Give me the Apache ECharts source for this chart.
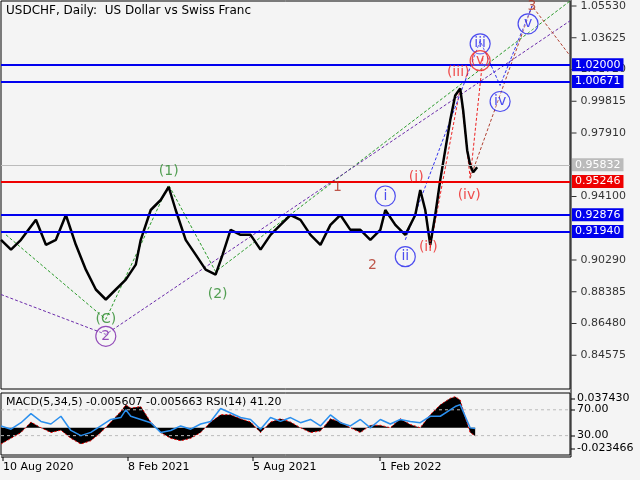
<!DOCTYPE html><html><head><meta charset="utf-8"><script src="https://cdn.jsdelivr.net/npm/echarts@6/dist/echarts.min.js"></script>
<style>body{margin:0;background:#f4f4f4}#c{width:640px;height:480px}</style></head><body><div id="c"></div><script>
// price path: [barPosition, price]
const priceX=[0,10,20,35,45,55,65,75,85,95,105,115,125,135,140,150,160,168,175,185,195,205,215,222,230,240,250,260,270,280,290,300,310,320,330,340,350,360,370,380,385,395,405,415,420,425,430,435,440,445,450,455,460,463,467,470,473,477];
const priceY=[0.9150,0.9091,0.9150,0.9270,0.9120,0.9150,0.9299,0.9120,0.8971,0.8852,0.8792,0.8852,0.8911,0.9001,0.9150,0.9329,0.9389,0.9467,0.9329,0.9150,0.9061,0.8971,0.8941,0.9061,0.9210,0.9180,0.9180,0.9091,0.9180,0.9240,0.9299,0.9270,0.9180,0.9120,0.9240,0.9299,0.9210,0.9210,0.9150,0.9210,0.9329,0.9240,0.9180,0.9299,0.9449,0.9329,0.9120,0.9299,0.9508,0.9688,0.9867,1.0016,1.0058,0.9926,0.9688,0.9598,0.9556,0.9586];
const levelsBlue=[1.02000,1.00671,0.92876,0.91940];
const levelRed=0.95246, lastPrice=0.95832;
const tickLabels=[1.05530,1.03625,1.01720,0.99815,0.97910,0.94100,0.90290,0.88385,0.86480,0.84575];
const greenWave=[[5,0.9180],[105,0.8673],[168,0.9479],[215,0.8959],[570,1.0583]];
const purpleWave=[[0,0.8822],[105,0.8583],[570,1.0464]];
const redWave=[[430,0.9102],[460,1.0058],[470,0.9520],[483,1.0255]];
const brownWave=[[470,0.9520],[532,1.0553],[570,1.0255]];
const blueWave=[[405,0.9150],[480,1.0344],[500,1.0076],[532,1.0553]];
const waveLabels=[
 [168,0.9560,'(1)','#2a8a2a',0],[217,0.8822,'(2)','#2a8a2a',0],[105,0.8673,'(C)','#2a8a2a',0],[105,0.8571,'2','#7a22aa',1],
 [337,0.9467,'1','#b03020',0],[372,0.8995,'2','#b03020',0],[532,1.0553,'3','#b03020',0],
 [385,0.9413,'i','#2222ee',1],[405,0.9049,'ii','#2222ee',1],[480,1.0326,'iii','#2222ee',1],[500,0.9980,'iv','#2222ee',1],[528,1.0446,'v','#2222ee',1],
 [416,0.9526,'(i)','#ee2222',0],[428,0.9102,'(ii)','#ee2222',0],[458,1.0155,'(iii)','#ee2222',0],[469,0.9419,'(iv)','#ee2222',0],[480,1.0225,'(v)','#ee2222',1]];
const oscX=[0,10,20,30,40,50,60,70,80,90,100,110,120,125,130,140,150,160,170,180,190,200,210,220,230,240,250,260,270,280,290,300,310,320,330,340,350,360,370,380,390,400,410,420,430,440,450,455,460,465,470,475];
const rsi=[45,40,50,64,52,48,60,38,30,35,45,55,58,70,60,55,50,35,38,45,40,48,52,72,65,58,55,40,58,52,58,50,55,45,62,50,45,55,42,55,48,55,52,50,60,60,70,75,78,60,42,41];
const macd=[-0.02,-0.013,-0.006,0.007,0,-0.006,-0.003,-0.013,-0.02,-0.016,-0.006,0.007,0.02,0.028,0.024,0.026,0.007,-0.006,-0.013,-0.016,-0.013,-0.006,0.007,0.016,0.016,0.011,0.007,-0.006,0.007,0.011,0.007,0,-0.006,-0.004,0.011,0.007,0,-0.006,0.003,0.003,0,0.011,0.004,0,0.016,0.028,0.036,0.038,0.034,0.013,-0.006,-0.01];
const dateLabels=[[3,'10 Aug 2020'],[128,'8 Feb 2021'],[253,'5 Aug 2021'],[380,'1 Feb 2022']];
const F='DejaVu Sans';
const ch=echarts.init(document.getElementById('c'));
const dashed=(d,c,i)=>({type:'line',xAxisIndex:i||0,yAxisIndex:i||0,data:d,symbol:'none',lineStyle:{color:c,width:1,type:[3,2]},z:3});
ch.setOption({backgroundColor:'#f4f4f4',animation:false,
 grid:[{left:1,top:1,width:569,height:388,show:true,borderColor:'#000',borderWidth:1},
       {left:1,top:393,width:569,height:62,show:true,borderColor:'#000',borderWidth:1},
       {left:1,top:393,width:569,height:62}],
 xAxis:[0,1,2].map(i=>({type:'value',gridIndex:i,min:0,max:570,show:false})),
 yAxis:[{type:'value',gridIndex:0,min:0.8255,max:1.0583,show:false},
        {type:'value',gridIndex:1,min:0,max:96,show:false},
        {type:'value',gridIndex:2,min:-0.0334,max:0.0425,show:false}],
 graphic:[{type:'text',left:6,top:5,style:{text:'USDCHF, Daily:  US Dollar vs Swiss Franc',font:'12px '+F,fill:'#000'}},
   {type:'text',left:6,top:397,style:{text:'MACD(5,34,5) -0.005607 -0.005663 RSI(14) 41.20',font:'11px '+F,fill:'#000'}},
   {type:'line',shape:{x1:571,y1:0,x2:571,y2:457},style:{stroke:'#000'}},
   {type:'line',shape:{x1:1,y1:457,x2:571,y2:457},style:{stroke:'#000'}},
   ...[[399,'0.037430'],[410,'70.00'],[436,'30.00'],[449,'-0.023466']].map(a=>({type:'group',children:[
     {type:'line',shape:{x1:571,y1:a[0],x2:575,y2:a[0]},style:{stroke:'#000'}},
     {type:'text',x:577,y:a[0]-6,style:{text:a[1],font:'11px '+F,fill:'#000'}}]})),
   ...dateLabels.map(a=>({type:'group',children:[
     {type:'line',shape:{x1:a[0],y1:457,x2:a[0],y2:461},style:{stroke:'#000'}},
     {type:'text',x:a[0],y:462,style:{text:a[1],font:'11px '+F,fill:'#000'}}]}))],
 series:[
  {type:'line',data:priceX.map((x,i)=>[x,priceY[i]]),symbol:'none',lineStyle:{color:'#000',width:2.5},z:4,
   markLine:{silent:true,symbol:'none',animation:false,data:[
     {yAxis:lastPrice,lineStyle:{color:'#bbb',width:1,type:'solid'},label:{position:'end',formatter:'0.95832',color:'#fff',backgroundColor:'#bbb',padding:[1,3],fontFamily:F,fontSize:11,distance:2}},
     ...levelsBlue.map(v=>({yAxis:v,lineStyle:{color:'#0000ee',width:2,type:'solid'},label:{position:'end',formatter:v.toFixed(5),color:'#fff',backgroundColor:'#0000ee',padding:[1,3],fontFamily:F,fontSize:11,distance:2}})),
     {yAxis:levelRed,lineStyle:{color:'#ee0000',width:2,type:'solid'},label:{position:'end',formatter:levelRed.toFixed(5),color:'#fff',backgroundColor:'#ee0000',padding:[1,3],fontFamily:F,fontSize:11,distance:2}}]}},
  dashed(greenWave,'#2a9a2a'),dashed(purpleWave,'#6a2aaa'),dashed(redWave,'#ee2222'),dashed(brownWave,'#b04030'),dashed(blueWave,'#3333ee'),
  {type:'scatter',data:tickLabels.map(v=>[572,v]),symbol:'rect',symbolSize:[5,1],symbolOffset:[2,0],itemStyle:{color:'#000'},clip:false,
   label:{show:true,position:'right',distance:4,formatter:p=>p.value[1].toFixed(5),color:'#000',fontFamily:F,fontSize:11},z:1},
  {type:'scatter',data:waveLabels.map(w=>({value:[w[0],w[1]],symbolSize:w[4]?20:1,
     itemStyle:{color:w[4]?'rgba(255,255,255,0.3)':'transparent',borderColor:w[3],borderWidth:w[4]?1.2:0},
     label:{show:true,position:'inside',formatter:w[2],color:w[3],fontFamily:F,fontSize:14}})),z:6},
  {type:'line',xAxisIndex:1,yAxisIndex:1,data:[[0,70],[570,70]],symbol:'none',lineStyle:{color:'#bbb',type:[3,3],width:1}},
  {type:'line',xAxisIndex:1,yAxisIndex:1,data:[[0,30],[570,30]],symbol:'none',lineStyle:{color:'#bbb',type:[3,3],width:1}},
  {type:'line',xAxisIndex:2,yAxisIndex:2,data:oscX.map((x,i)=>[x,macd[i]]),symbol:'none',lineStyle:{color:'#ee0000',width:1,type:[2,2]},areaStyle:{color:'#000',opacity:1}},
  {type:'line',xAxisIndex:1,yAxisIndex:1,data:oscX.map((x,i)=>[x,rsi[i]]),symbol:'none',lineStyle:{color:'#2a8fee',width:1.5},z:5}
 ]});
</script></body></html>
